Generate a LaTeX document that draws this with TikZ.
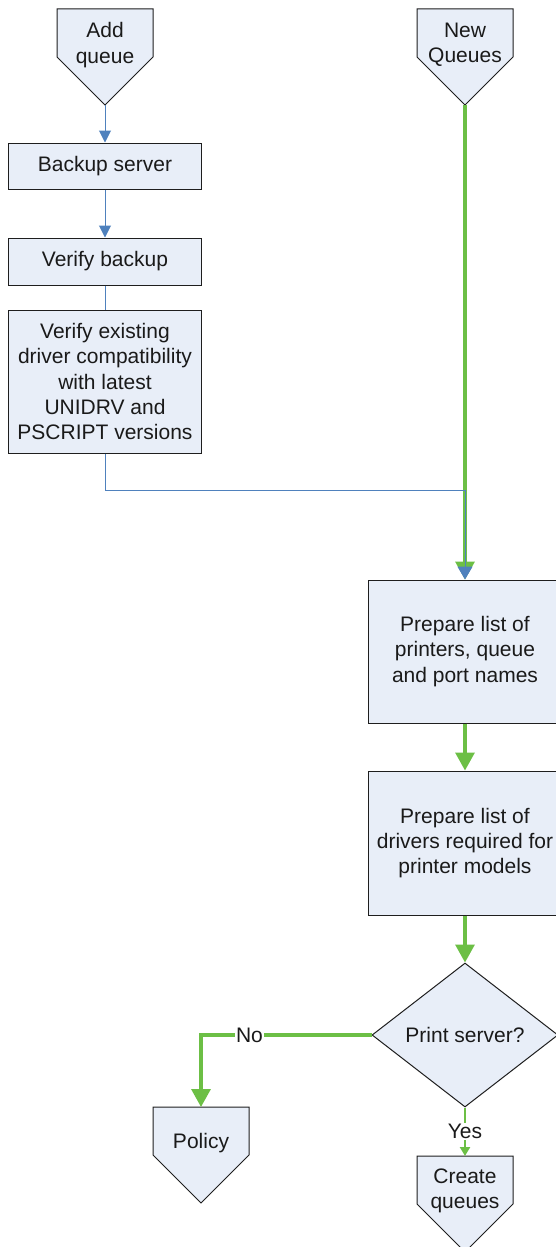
\documentclass[tikz,border=0pt]{standalone}
\usepackage{fontspec}
\setmainfont{Liberation Sans}
\usepackage{xcolor}
\usetikzlibrary{arrows.meta,shapes.geometric}
\definecolor{QFill}{HTML}{E8EEF8}
\definecolor{QLine}{HTML}{1E1E1E}
\definecolor{QText}{HTML}{1A1A1A}
\definecolor{QBlue}{HTML}{4F81BD}
\definecolor{QGreen}{HTML}{6CBF45}
\tikzset{
  qbox/.style={draw=QLine,fill=QFill,line width=1pt,align=center,inner sep=0pt,text=QText},
  qtext/.style={align=center,inner sep=0pt,text=QText},
  blueflow/.style={QBlue,line width=1pt},
  greenflow/.style={QGreen,line width=3.3pt},
  qlabel/.style={fill=white,inner sep=1pt,text=QText},
}

\begin{document}
\begin{tikzpicture}[x=1pt,y=-1pt,font=\fontsize{21}{25.3}\selectfont]
\path[use as bounding box] (0,0) rectangle (556,1247);
% off-page shapes
\draw[qbox] (57,9) -- (153,9) -- (153,57) -- (105,105) -- (57,57) -- cycle;
\node[qtext] (addq) at (105,45) {Add\\queue};
\coordinate (addqtip) at (105,105);
\draw[qbox] (417,9) -- (513,9) -- (513,57) -- (465,105) -- (417,57) -- cycle;
\node[qtext] (newq) at (465,45) {New\\Queues};
\coordinate (newqtip) at (465,105);
\draw[qbox] (153,1107) -- (249,1107) -- (249,1155) -- (201,1203) -- (153,1155) -- cycle;
\node[qtext] (policy) at (201,1143) {Policy};
\coordinate (policytop) at (201,1107);
\draw[qbox] (417,1156) -- (513,1156) -- (513,1204) -- (465,1252) -- (417,1204) -- cycle;
\node[qtext] (createq) at (465,1191) {Create\\queues};
\coordinate (createqtop) at (465,1156);
% process boxes
\node[qbox,minimum width=193pt,minimum height=46pt] (backup) at (105,166) {Backup server};
\node[qbox,minimum width=193pt,minimum height=47pt] (verbackup) at (105,261.5) {Verify backup};
\node[qbox,minimum width=193pt,minimum height=143pt] (verexist) at (105,381.5)
  {Verify existing\\driver compatibility\\with latest\\UNIDRV and\\PSCRIPT versions};
\node[qbox,minimum width=193pt,minimum height=143pt] (prepprint) at (465,651.5)
  {Prepare list of\\printers, queue\\and port names};
\node[qbox,minimum width=193pt,minimum height=144pt] (prepdrv) at (465,843)
  {Prepare list of\\drivers required for\\printer models};
\node[diamond,draw=QLine,fill=QFill,line width=1pt,minimum width=186pt,minimum height=144pt,
  inner sep=0pt,aspect=1.3,text=QText] (printsrv) at (465,1035) {Print server?};
% connectors
\draw[blueflow,-{Triangle[length=12pt,width=12pt]}] (addqtip) -- (backup.north);
\draw[blueflow,-{Triangle[length=12pt,width=12pt]}] (backup.south) -- (verbackup.north);
\draw[blueflow] (verbackup.south) -- (verexist.north);
\draw[greenflow,-{Triangle[length=18pt,width=19pt]}] (newqtip) -- (prepprint.north);
\draw[blueflow,-{Triangle[length=13pt,width=15pt]}] (verexist.south) -- ++(0,37) -| (prepprint.north);
\draw[greenflow,-{Triangle[length=18pt,width=19pt]}] (prepprint.south) -- (prepdrv.north);
\draw[greenflow,-{Triangle[length=18pt,width=19pt]}] (prepdrv.south) -- (printsrv.north);
\draw[greenflow,-{Triangle[length=18pt,width=19pt]}] (printsrv.west) -| node[qlabel,pos=0.358] {No} (policytop);
\draw[QGreen,line width=2.7pt,-{Triangle[length=9pt,width=10pt]}] (printsrv.south) -- node[qlabel] {Yes} (createqtop);
\end{tikzpicture}
\end{document}
